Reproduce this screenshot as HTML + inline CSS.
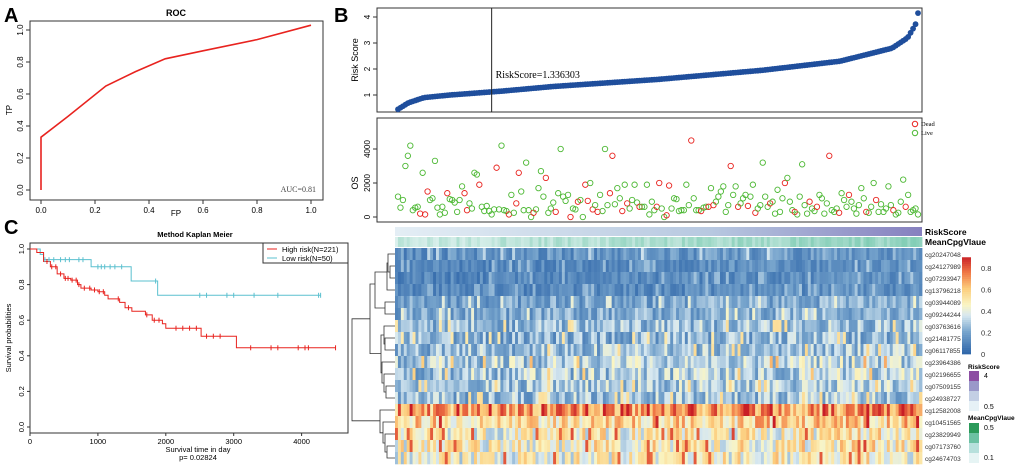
<!DOCTYPE html>
<html><head><meta charset="utf-8"><style>
body{margin:0;background:#fff;width:1020px;height:468px;overflow:hidden;font-family:"Liberation Sans",Arial,sans-serif}
</style></head><body>
<svg id="fig" width="1020" height="468" viewBox="0 0 1020 468" xmlns="http://www.w3.org/2000/svg" font-family="Liberation Sans, Arial, sans-serif">
<g id="panelA"></g>
<g id="panelB"></g>
<g id="panelC"></g>
<g id="panelH"></g>
</svg>
<script>
// ---------- data ----------
const rocFP=[0,0,0.1,0.24,0.35,0.46,0.6,0.8,1.0];
const rocTP=[0,0.33,0.46,0.65,0.74,0.82,0.87,0.94,1.03];
const rocTicks=[0,0.2,0.4,0.6,0.8,1.0];
const rankFrac=[0,0.02,0.05,0.1,0.2,0.3,0.5,0.7,0.85,0.95,0.98,0.995,1];
const riskKnots=[0.45,0.7,0.9,1.0,1.15,1.33,1.6,1.95,2.3,2.8,3.2,3.7,4.15];
const riskTicks=[1,2,3,4];
const osDays=[1200,550,1000,3000,3600,4200,400,550,600,200,2600,150,1500,1000,1100,3300,550,150,600,250,1400,1050,1000,850,300,1000,1800,1400,400,800,500,2600,2500,1900,600,350,650,350,150,450,2900,450,4200,400,350,150,1300,250,800,2600,1500,400,3200,400,0,250,450,1700,2700,1200,2300,250,500,850,300,1400,4000,1200,950,1300,0,500,450,900,1000,0,1900,950,2000,450,700,300,1300,350,4000,700,1400,3600,750,1700,1100,350,1900,800,500,1000,1900,850,600,600,600,1900,150,900,400,600,2000,500,0,100,1850,500,1100,1050,350,400,400,1900,700,4500,1100,400,400,350,550,600,600,1700,700,900,1200,1500,1800,300,700,3000,1300,1800,600,800,1100,1300,650,1200,1900,250,500,700,3200,1200,600,800,900,200,1600,300,1100,2000,2300,900,400,300,150,1200,3100,700,200,900,500,350,600,1300,1100,200,800,3600,400,300,500,250,1400,1000,600,1300,900,500,200,700,1700,1100,300,250,600,2000,1000,300,750,300,500,1800,700,400,150,250,900,2200,600,1300,300,400,500,150];
const osDead=[0,0,0,0,0,0,0,0,0,1,0,1,1,0,0,0,0,0,0,0,1,0,0,0,0,0,0,1,1,0,0,0,0,1,0,0,0,0,0,0,1,0,0,0,0,1,0,0,1,1,0,0,0,0,0,1,0,0,0,0,1,0,0,0,1,0,0,0,0,0,1,0,0,1,0,0,1,1,0,1,0,1,0,0,0,0,1,1,0,0,0,1,0,1,0,0,0,0,1,0,0,0,0,0,0,1,1,0,0,1,1,0,0,0,0,0,0,0,0,1,0,0,0,1,0,0,1,0,1,0,0,0,0,0,0,1,0,0,1,0,0,0,1,0,0,1,0,0,0,0,0,1,0,0,0,0,0,1,0,0,0,1,0,0,0,0,0,1,0,0,1,0,0,0,0,1,0,0,0,1,0,0,0,1,0,0,0,0,0,0,1,0,0,0,1,0,0,0,0,0,0,1,0,0,0,0,1,0,0,0,0,0,0,0,0,0];
const osTicks=[0,2000,4000];
const kmHighT=[0,100,200,300,400,500,600,700,750,900,1000,1100,1150,1320,1400,1500,1700,1800,1950,2000,2520,3040,4500];
const kmHighS=[1.0,0.98,0.93,0.9,0.86,0.835,0.825,0.8,0.78,0.77,0.76,0.74,0.72,0.7,0.67,0.65,0.63,0.6,0.58,0.555,0.51,0.445,0.445];
const kmLowT=[0,150,200,900,1490,1880,4280];
const kmLowS=[1.0,0.97,0.94,0.9,0.82,0.74,0.74];
const censHigh=[250,320,380,450,520,560,620,680,720,800,880,950,1020,1080,1300,1450,1720,1830,1900,2150,2250,2350,2450,2600,2700,2800,3250,3550,3650,3950,4050,4100,4500];
const censLow=[220,280,350,450,520,580,720,780,1000,1050,1100,1180,1250,1350,1850,2500,2600,2900,3000,3300,3650,4250,4280];
const kmXTicks=[0,1000,2000,3000,4000];
const kmYTicks=[0,0.2,0.4,0.6,0.8,1.0];
const cpgNames=["cg20247048","cg24127989","cg07293947","cg13796218","cg03944089","cg09244244","cg03763616","cg21481775","cg06117855","cg23964386","cg02196655","cg07509155","cg24938727","cg12582008","cg10451565","cg23829949","cg07173760","cg24674703"];
const rowMeans=[0.14,0.11,0.1,0.1,0.18,0.2,0.24,0.22,0.25,0.3,0.28,0.27,0.25,0.68,0.55,0.45,0.46,0.44];
const rowSpread=[0.1,0.08,0.08,0.08,0.12,0.12,0.16,0.16,0.16,0.18,0.18,0.16,0.16,0.2,0.2,0.2,0.2,0.2];
const cbTicks=[0,0.2,0.4,0.6,0.8];
// ---------- helpers ----------
const NS="http://www.w3.org/2000/svg";
function mk(parent,tag,attrs,txt){const e=document.createElementNS(NS,tag);for(const k in attrs)e.setAttribute(k,attrs[k]);if(txt!==undefined)e.textContent=txt;parent.appendChild(e);return e;}
function hash(i,j){let h=(i*374761393+j*668265263)^0x5bd1e995;h=(h^(h>>>13))*1274126177;h=h^(h>>>16);return ((h>>>0)%10000)/10000;}
function colorScale(v){const stops=[[0,[49,104,170]],[0.2,[120,165,205]],[0.35,[215,232,240]],[0.45,[250,245,195]],[0.6,[252,205,125]],[0.75,[240,120,70]],[0.9,[200,30,38]]];
 v=Math.max(0,Math.min(0.9,v));for(let i=1;i<stops.length;i++){if(v<=stops[i][0]){const a=stops[i-1],b=stops[i],t=(v-a[0])/(b[0]-a[0]);return `rgb(${a[1].map((c,k)=>Math.round(c+(b[1][k]-c)*t)).join(',')})`;}}return 'rgb(200,30,38)';}
const SERIF='Liberation Serif, serif';
// ---------- Panel A: ROC ----------
const A=document.getElementById('panelA');
const ax=fp=>41+fp*270, ay=tp=>190-tp*160;
let t=mk(A,'text',{x:4,y:22,'font-size':20,'font-weight':'bold'},'A');

t=mk(A,'text',{x:176,y:16,'font-size':9,'font-weight':'bold','text-anchor':'middle'},'ROC');

let r=mk(A,'rect',{x:30,y:21,width:293,height:179,fill:'none',stroke:'#333','stroke-width':1});

rocTicks.forEach(v=>{mk(A,'line',{x1:ax(v),x2:ax(v),y1:200,y2:204,stroke:'#333'});
 const tx=mk(A,'text',{x:ax(v),y:213,'font-size':8,'text-anchor':'middle'},v.toFixed(1));
 mk(A,'line',{x1:26,x2:30,y1:ay(v),y2:ay(v),stroke:'#333'});
 const ty=mk(A,'text',{x:0,y:0,'font-size':8,'text-anchor':'middle',transform:`translate(23,${ay(v)}) rotate(-90)`},v.toFixed(1));});
t=mk(A,'text',{x:176,y:216,'font-size':8,'text-anchor':'middle'},'FP');
t=mk(A,'text',{x:0,y:0,'font-size':8,'text-anchor':'middle',transform:'translate(12,110) rotate(-90)'},'TP');
let p=mk(A,'polyline',{points:rocFP.map((f,i)=>ax(f)+','+ay(rocTP[i])).join(' '),fill:'none',stroke:'#e8231f','stroke-width':1.6});

t=mk(A,'text',{x:316,y:192,'font-size':8,'text-anchor':'end','font-family':SERIF,fill:'#444'},'AUC=0.81');

// ---------- Panel B ----------
const B=document.getElementById('panelB');
t=mk(B,'text',{x:334,y:22,'font-size':20,'font-weight':'bold'},'B');
r=mk(B,'rect',{x:377,y:8,width:545,height:104,fill:'none',stroke:'#333'});
const N=osDays.length;
const bx=i=>398+i*(520/(N-1));
const ry=v=>121-v*26;
function riskAt(f){for(let k=1;k<rankFrac.length;k++){if(f<=rankFrac[k]){const u=(f-rankFrac[k-1])/(rankFrac[k]-rankFrac[k-1]);return riskKnots[k-1]+u*(riskKnots[k]-riskKnots[k-1]);}}return riskKnots[riskKnots.length-1];}
riskTicks.forEach(v=>{mk(B,'line',{x1:373,x2:377,y1:ry(v),y2:ry(v),stroke:'#333'});
 const tx=mk(B,'text',{x:0,y:0,'font-size':8,'text-anchor':'middle',transform:`translate(370,${ry(v)}) rotate(-90)`},v);});
t=mk(B,'text',{x:0,y:0,'font-size':9,'text-anchor':'middle',transform:'translate(358,60) rotate(-90)'},'Risk Score');
const rg=mk(B,'g',{});
for(let i=0;i<N;i++){const c=mk(rg,'circle',{cx:bx(i),cy:ry(riskAt(i/(N-1))),r:2.9,fill:'#1f4e9c'});
 }
const cutI=Math.round(0.18*(N-1));
let l=mk(B,'line',{x1:bx(cutI),x2:bx(cutI),y1:8,y2:112,stroke:'#222','stroke-width':1});
t=mk(B,'text',{x:bx(cutI)+4,y:78,'font-size':10,'font-family':SERIF},'RiskScore=1.336303');
r=mk(B,'rect',{x:377,y:118,width:545,height:104,fill:'none',stroke:'#333'});
const oy=v=>217-v*0.017;
osTicks.forEach(v=>{mk(B,'line',{x1:373,x2:377,y1:oy(v),y2:oy(v),stroke:'#333'});
 const tx=mk(B,'text',{x:0,y:0,'font-size':8,'text-anchor':'middle',transform:`translate(370,${oy(v)}) rotate(-90)`},v);});
t=mk(B,'text',{x:0,y:0,'font-size':9,'text-anchor':'middle',transform:'translate(358,183) rotate(-90)'},'OS');
const og=mk(B,'g',{});
for(let i=0;i<N;i++){const c=mk(og,'circle',{cx:bx(i),cy:oy(osDays[i]),r:2.7,fill:'none',stroke:osDead[i]?'#e8231f':'#4cb833','stroke-width':0.9});
 }
const lg=mk(B,'g',{});
mk(lg,'circle',{cx:915,cy:124,r:2.7,fill:'none',stroke:'#e8231f'});mk(lg,'text',{x:921,y:126,'font-size':6.5,'font-family':SERIF},'Dead');
mk(lg,'circle',{cx:915,cy:133,r:2.7,fill:'none',stroke:'#4cb833'});mk(lg,'text',{x:921,y:135,'font-size':6.5,'font-family':SERIF},'Live');
// ---------- Panel C: KM ----------
const C=document.getElementById('panelC');
const kx=tt=>30+tt*0.0679, ky=s=>427-s*178;
t=mk(C,'text',{x:4,y:234,'font-size':20,'font-weight':'bold'},'C');
t=mk(C,'text',{x:195,y:237,'font-size':7.5,'font-weight':'bold','text-anchor':'middle'},'Method Kaplan Meier');
r=mk(C,'rect',{x:30,y:243,width:318,height:190,fill:'none',stroke:'#333'});
kmXTicks.forEach(v=>{mk(C,'line',{x1:kx(v),x2:kx(v),y1:433,y2:436,stroke:'#333'});
 const tx=mk(C,'text',{x:kx(v),y:444,'font-size':7.5,'text-anchor':'middle'},v);});
kmYTicks.forEach(v=>{mk(C,'line',{x1:27,x2:30,y1:ky(v),y2:ky(v),stroke:'#333'});
 const tx=mk(C,'text',{x:0,y:0,'font-size':7.5,'text-anchor':'middle',transform:`translate(24,${ky(v)}) rotate(-90)`},v.toFixed(1));});
t=mk(C,'text',{x:198,y:452,'font-size':7.5,'text-anchor':'middle'},'Survival time in day');
t=mk(C,'text',{x:198,y:460,'font-size':7.5,'text-anchor':'middle'},'p= 0.02824');
t=mk(C,'text',{x:0,y:0,'font-size':7.5,'text-anchor':'middle',transform:'translate(11,338) rotate(-90)'},'Survival probabilities');
function stepPts(T,S){let s=[];for(let i=0;i<T.length;i++){if(i>0)s.push(kx(T[i])+','+ky(S[i-1]));s.push(kx(T[i])+','+ky(S[i]));}return s.join(' ');}
function survAt(T,S,x){let s=S[0];for(let i=0;i<T.length;i++){if(T[i]<=x)s=S[i];}return s;}
p=mk(C,'polyline',{points:stepPts(kmLowT,kmLowS),fill:'none',stroke:'#5bc0cf','stroke-width':1});
p=mk(C,'polyline',{points:stepPts(kmHighT,kmHighS),fill:'none',stroke:'#e8231f','stroke-width':1});
censLow.forEach(c=>{const y=ky(survAt(kmLowT,kmLowS,c));const e=mk(C,'line',{x1:kx(c),x2:kx(c),y1:y-2.5,y2:y+2.5,stroke:'#5bc0cf'});});
censHigh.forEach(c=>{const y=ky(survAt(kmHighT,kmHighS,c));const e=mk(C,'line',{x1:kx(c),x2:kx(c),y1:y-2.5,y2:y+2.5,stroke:'#e8231f'});});
const kl=mk(C,'g',{});
mk(kl,'rect',{x:263,y:243,width:85,height:20,fill:'#fff',stroke:'#333'});
mk(kl,'line',{x1:267,x2:277,y1:249,y2:249,stroke:'#e8231f'});mk(kl,'text',{x:282,y:252,'font-size':7.5},'High risk(N=221)');
mk(kl,'line',{x1:267,x2:277,y1:258,y2:258,stroke:'#5bc0cf'});mk(kl,'text',{x:282,y:261,'font-size':7.5},'Low risk(N=50)');
// ---------- Heatmap ----------
const H=document.getElementById('panelH');
const hx0=395,hx1=922,hy0=248,rowH=12,ncol=180,cw=(hx1-hx0)/ncol;
const defs=mk(H,'defs',{});
const g1=mk(defs,'linearGradient',{id:'rsg',x1:0,x2:1,y1:0,y2:0});mk(g1,'stop',{offset:0,'stop-color':'#e4eef5'});mk(g1,'stop',{offset:0.6,'stop-color':'#b7c8e0'});mk(g1,'stop',{offset:1,'stop-color':'#8680bf'});
r=mk(H,'rect',{x:hx0,y:227,width:hx1-hx0,height:9,fill:'url(#rsg)'});
const mg=mk(H,'g',{});
for(let j=0;j<ncol;j++){const v=0.2+0.4*(j/ncol)+0.35*(hash(99,j)-0.5);const a=Math.max(0,Math.min(1,v));
 const col=`rgb(${Math.round(225-a*130)},${Math.round(242-a*50)},${Math.round(240-a*80)})`;
 mk(mg,'rect',{x:hx0+j*cw,y:237,width:cw+0.4,height:10,fill:col});}
const hm=mk(H,'g',{});
for(let i=0;i<rowMeans.length;i++){for(let j=0;j<ncol;j++){
 const h=hash(i,j);let v=rowMeans[i]+rowSpread[i]*(h-0.5)*2*(h>0.93?1.8:1);v+=0.04*(j/ncol);
 const c=mk(hm,'rect',{x:hx0+j*cw,y:hy0+i*rowH,width:cw+0.4,height:rowH+0.3,fill:colorScale(v)});
 }}
cpgNames.forEach((n,i)=>{const e=mk(H,'text',{x:925,y:hy0+i*rowH+9,'font-size':6.5,fill:'#333'},n);});
t=mk(H,'text',{x:925,y:235,'font-size':8.5,'font-weight':'bold'},'RiskScore');
t=mk(H,'text',{x:925,y:245,'font-size':8.5,'font-weight':'bold'},'MeanCpgVlaue');
// dendrogram
const dg=mk(H,'g',{fill:'none',stroke:'#333','stroke-width':0.8});
const cy=i=>hy0+i*rowH+rowH/2;
function br(x,y1,y2,xl1,xl2){mk(dg,'path',{d:`M${xl1},${y1}H${x}V${y2}H${xl2}`});}
br(390,cy(1),cy(2),395,395);br(388,cy(0),(cy(1)+cy(2))/2,395,390);br(387,(cy(0)+cy(1.5))/2,cy(3),388,395);
br(385,cy(4),cy(5),395,395);br(375,(cy(0)+cy(3))/2,cy(4.5),387,385);
br(385,cy(7),cy(8),395,395);br(384,cy(6),cy(7.5),395,385);br(386,cy(11),cy(12),395,395);br(384,cy(10),cy(11.5),395,386);
br(382,cy(9),cy(10.75),395,384);br(381,cy(6.75),cy(9.9),384,382);br(370,cy(2.5),cy(8.3),375,381);
br(387,cy(16),cy(17),395,395);br(385,cy(15),cy(16.5),395,387);br(383,cy(14),cy(15.75),395,385);br(380,cy(13),cy(14.9),395,383);
br(352,cy(5.4),cy(13.9),370,380);
// colorbar
const cbg=mk(H,'g',{});
const cbY=v=>354-v*107.5;
for(let k=0;k<45;k++){const v=k*0.02;mk(cbg,'rect',{x:962,y:cbY(v+0.02),width:9,height:2.5,fill:colorScale(v)});}
cbTicks.forEach(v=>{const e=mk(cbg,'text',{x:981,y:cbY(v)+3,'font-size':7.5,fill:'#333'},String(v));});
const rl=mk(H,'g',{});
mk(rl,'text',{x:968,y:369,'font-size':6.5,'font-weight':'bold'},'RiskScore');
['#8d4ea3','#9a98c9','#c3cfe4','#e6f1f6'].forEach((c,k)=>mk(rl,'rect',{x:969,y:371+k*10,width:10,height:10,fill:c}));
mk(rl,'text',{x:984,y:378,'font-size':7},'4');mk(rl,'text',{x:984,y:409,'font-size':7},'0.5');
const ml=mk(H,'g',{});
mk(ml,'text',{x:968,y:420,'font-size':6.5,'font-weight':'bold'},'MeanCpgVlaue');
['#2b9a5a','#6cc1a3','#b7e0dc','#e6f4f4'].forEach((c,k)=>mk(ml,'rect',{x:969,y:423+k*10,width:10,height:10,fill:c}));
mk(ml,'text',{x:984,y:430,'font-size':7},'0.5');mk(ml,'text',{x:984,y:460,'font-size':7},'0.1');
</script>
</body></html>
